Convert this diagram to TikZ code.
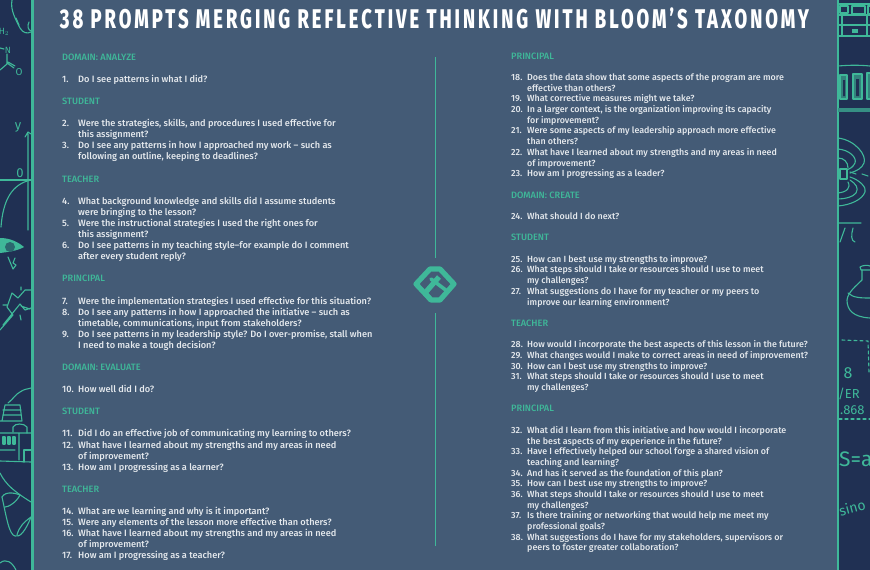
\documentclass[tikz,border=0pt]{standalone}
\usepackage{fontspec}
\setmainfont{Fira Sans}
\newfontfamily\bodyfont{Fira Sans Medium}
\newfontfamily\titlefont[FakeStretch=0.68,LetterSpace=11.1]{Fira Sans ExtraBold}
\newfontfamily\handfont{Fira Sans}
\definecolor{panelblue}{HTML}{445B76}
\definecolor{sidenavy}{HTML}{203053}
\definecolor{mintgreen}{HTML}{3FB899}
\definecolor{paletext}{HTML}{E6EAEE}
\tikzset{
  prompt/.style={anchor=base west,inner sep=0pt,text=paletext,font=\bodyfont\fontsize{9.2}{10}\selectfont},
  heading/.style={anchor=base west,inner sep=0pt,text=mintgreen,font=\bodyfont\fontsize{9.2}{10}\selectfont},
  doodle/.style={draw=mintgreen,line width=1.1pt,line cap=round,line join=round},
  handtext/.style={inner sep=0pt,text=mintgreen,font=\handfont\fontsize{13}{14}\selectfont},
  logostroke/.style={draw=mintgreen,line width=5.2pt,line join=round,line cap=round}
}
\begin{document}
\begin{tikzpicture}[x=1pt,y=-1pt]
  \useasboundingbox (0,0) rectangle (870,570);
  \fill[sidenavy] (0,0) rectangle (870,570);
  \fill[panelblue] (33,0) rectangle (837,570);
  \fill[mintgreen] (31,0) rectangle (33.5,570);
  \fill[mintgreen] (836.5,0) rectangle (838.5,570);
  % left strip
  \draw[doodle] (12,0) .. controls (10,10) and (16,20) .. (20,28) .. controls (23,33) and (27,34) .. (31,32);
  \draw[doodle] (16,18) -- (19,25);
  \draw[doodle] (29,22) .. controls (27,26) and (28,30) .. (31,31);
  \node[handtext,font=\handfont\fontsize{9}{9}\selectfont] (hlabel) at (4,32) {H$_2$};
  \node[handtext,font=\handfont\fontsize{9}{9}\selectfont] (nlabel) at (8,50) {N};
  \node[handtext,font=\handfont\fontsize{10}{10}\selectfont] (olabel) at (19,72) {O};
  \draw[doodle] (0,48) -- (4,49) (7,54) -- (7,64) -- (0,70) (7,63) -- (14,68) (8,62) -- (15,66);
  \node[handtext] (ylabel) at (18,127) {y};
  \node[handtext] (zerolabel) at (20,173) {0};
  \draw[doodle] (28,230) -- (28,134) (25,137) -- (28,132) -- (31,134);
  \draw[doodle] (0,180) -- (31,180);
  \draw[doodle] (31,180) .. controls (12,184) and (3,200) .. (1,227);
  \fill[mintgreen] (0,238) .. controls (10,238) and (18,242) .. (24,247) .. controls (17,251) and (8,252) .. (0,253) -- cycle;
  \fill[sidenavy!60!mintgreen] (10,247) circle (5);
  \draw[doodle] (8,257) -- (13,269) -- (16,265) -- (13,263) -- (15,258);
  \draw[doodle] (0,330) -- (13,315) -- (7,307) -- (12,293) -- (18,298) -- (25,290) -- (31,290)
    (31,308) -- (25,310) -- (20,304) -- (3,325) (21,306) -- (30,309);
  \draw[doodle] (21,287) -- (21,290) (3,305) -- (7,305) (20,315) -- (21,320);
  \draw[doodle] (8,403) .. controls (14,398) and (16,394) .. (20,392) .. controls (24,389) and (28,389) .. (31,388);
  \draw[doodle] (5,405) -- (20,405) -- (22,421) (5,405) -- (2,421) (3,410) -- (21,410) (3,415) -- (21,415) (0,421) -- (22,421);
  \draw[doodle] (13,432) -- (13,427) .. controls (15,423) and (24,423) .. (27,427) -- (27,433);
  \draw[doodle] (0,433) -- (31,433) (19,433) -- (19,460) (0,450) -- (15,450) (0,461) -- (31,462);
  \draw[doodle] (24,462) -- (24,450) -- (31,450);
  \draw[doodle] (3,437) rectangle (5,444) (8,437) rectangle (10,444) (13,437) rectangle (15,444);
  \draw[doodle] (0,473) .. controls (6,485) and (15,492) .. (31,502);
  \draw[doodle] (2,497) .. controls (6,515) and (9,535) .. (15,536) .. controls (20,538) and (26,530) .. (31,517);
  \draw[doodle] (17,535) .. controls (19,527) and (24,522) .. (31,517);
  \draw[doodle] (2,497) .. controls (6,490) and (18,494) .. (20,495) .. controls (16,503) and (8,507) .. (5,507);
  \draw[doodle] (0,563) .. controls (6,558) and (12,562) .. (16,570);
  % right strip
  \draw[doodle] (838,4) -- (870,4) (838,15) -- (870,15) (838,25) -- (870,25) (838,36) -- (870,36);
  \draw[doodle] (842,15) -- (842,36) (867,15) -- (867,36);
  \draw[doodle] (840,6) rectangle (848,13) (852,6) rectangle (865,14) (868,6) rectangle (872,14);
  \fill[mintgreen] (852,29) rectangle (858,33);
  \draw[doodle] (838,66) .. controls (850,65) and (860,65) .. (870,66);
  \draw[doodle,fill=mintgreen!60!sidenavy] (840,75) rectangle (847,99) (853,74) rectangle (862,99) (867,73) rectangle (873,99);
  \fill[sidenavy] (843,80) rectangle (845,96) (856,79) rectangle (859,96);
  \fill[mintgreen!70!sidenavy] (838,108) rectangle (870,112);
  \draw[doodle] (840,169) rectangle (847,179);
  \draw[doodle] (838,138) .. controls (855,140) and (867,155) .. (864,163) .. controls (862,168) and (857,171) .. (850,173);
  \draw[doodle] (838,149) .. controls (850,150) and (857,158) .. (855,163) .. controls (853,167) and (850,169) .. (847,170);
  \draw[doodle] (838,158) .. controls (844,158) and (848,162) .. (848,168);
  \draw[doodle] (850,177) .. controls (860,180) and (867,188) .. (865,192) .. controls (862,200) and (850,205) .. (838,206);
  \draw[doodle] (850,180) .. controls (856,184) and (859,188) .. (856,193) .. controls (853,197) and (845,199) .. (838,199);
  \draw[doodle] (848,182) .. controls (851,188) and (847,192) .. (838,193);
  \draw[doodle] (850,172) -- (856,174) (862,174) -- (868,176);
  \draw[doodle] (838,223) -- (861,223) (845,228) -- (840,242) (853,228) .. controls (851,235) and (851,241) .. (855,242);
  \draw[doodle] (860,267) .. controls (863,265) and (868,265) .. (870,266) (860,267) -- (861,270) -- (870,270);
  \draw[doodle] (862,270) -- (862,280) .. controls (856,286) and (848,292) .. (847,300) .. controls (847,310) and (853,317) .. (870,318);
  \draw[doodle] (848,293) .. controls (853,298) and (862,298) .. (870,298);
  \draw[doodle,dashed] (842,340) -- (868,341) -- (869,372);
  \node[handtext,font=\handfont\fontsize{16}{16}\selectfont] (eightlabel) at (848,373) {8};
  \node[handtext,anchor=west] (verlabel) at (838,394) {/ER};
  \node[handtext,anchor=west] (decimallabel) at (840,410) {.868};
  \draw[doodle,dashed] (839,419) -- (870,419);
  \node[handtext,anchor=west,font=\handfont\fontsize{21}{21}\selectfont] (arealabel) at (839,459) {S=a};
  \node[handtext,anchor=west,rotate=15,font=\handfont\fontsize{14}{14}\selectfont] (sinlabel) at (839,511) {sino};
  % title
  \node[inner sep=0pt,text=white,font=\titlefont\fontsize{27}{27}\selectfont] (title) at (434.5,18.5)
    {38 PROMPTS MERGING REFLECTIVE THINKING WITH BLOOM’S TAXONOMY};
  % divider and logo
  \coordinate (dividerA) at (435,57);
  \coordinate (dividerB) at (435,258);
  \coordinate (dividerC) at (435,313);
  \coordinate (dividerD) at (435,546);
  \draw[mintgreen,line width=1pt] (dividerA) -- (dividerB) (dividerC) -- (dividerD);
  \draw[logostroke] (416,284) -- (430,269) -- (440,269) -- (454,284) -- (440,300) -- (431,300) -- cycle;
  \draw[logostroke,line cap=butt] (431,300) -- (425,293) -- (439,277);
  \draw[logostroke,line width=3.6pt] (431,279) -- (447,291);
  % left column
  \node[heading] (analyze) at (62,60) {DOMAIN: ANALYZE};
  \node[prompt] (n1) at (62,82) {1.};
  \node[prompt] (q1) at (78,82) {Do I see patterns in what I did?};
  \node[heading] (studentA) at (62,104) {STUDENT};
  \node[prompt] (n2) at (62,126) {2.};
  \node[prompt] (q2) at (78,126) {Were the strategies, skills, and procedures I used effective for};
  \node[prompt] (q2b) at (78,137) {this assignment?};
  \node[prompt] (n3) at (62,148.5) {3.};
  \node[prompt] (q3) at (78,148.5) {Do I see any patterns in how I approached my work – such as};
  \node[prompt] (q3b) at (78,159.5) {following an outline, keeping to deadlines?};
  \node[heading] (teacherA) at (62,182) {TEACHER};
  \node[prompt] (n4) at (62,204) {4.};
  \node[prompt] (q4) at (78,204) {What background knowledge and skills did I assume students};
  \node[prompt] (q4b) at (78,215) {were bringing to the lesson?};
  \node[prompt] (n5) at (62,226) {5.};
  \node[prompt] (q5) at (78,226) {Were the instructional strategies I used the right ones for};
  \node[prompt] (q5b) at (78,237) {this assignment?};
  \node[prompt] (n6) at (62,248) {6.};
  \node[prompt] (q6) at (78,248) {Do I see patterns in my teaching style–for example do I comment};
  \node[prompt] (q6b) at (78,259) {after every student reply?};
  \node[heading] (principalA) at (62,281.5) {PRINCIPAL};
  \node[prompt] (n7) at (62,304) {7.};
  \node[prompt] (q7) at (78,304) {Were the implementation strategies I used effective for this situation?};
  \node[prompt] (n8) at (62,315) {8.};
  \node[prompt] (q8) at (78,315) {Do I see any patterns in how I approached the initiative – such as};
  \node[prompt] (q8b) at (78,326) {timetable, communications, input from stakeholders?};
  \node[prompt] (n9) at (62,337) {9.};
  \node[prompt] (q9) at (78,337) {Do I see patterns in my leadership style? Do I over-promise, stall when};
  \node[prompt] (q9b) at (78,348) {I need to make a tough decision?};
  \node[heading] (evaluate) at (62,370) {DOMAIN: EVALUATE};
  \node[prompt] (n10) at (62,392) {10.};
  \node[prompt] (q10) at (78,392) {How well did I do?};
  \node[heading] (studentB) at (62,414) {STUDENT};
  \node[prompt] (n11) at (62,436.5) {11.};
  \node[prompt] (q11) at (78,436.5) {Did I do an effective job of communicating my learning to others?};
  \node[prompt] (n12) at (62,448) {12.};
  \node[prompt] (q12) at (78,448) {What have I learned about my strengths and my areas in need};
  \node[prompt] (q12b) at (78,459) {of improvement?};
  \node[prompt] (n13) at (62,470) {13.};
  \node[prompt] (q13) at (78,470) {How am I progressing as a learner?};
  \node[heading] (teacherB) at (62,492) {TEACHER};
  \node[prompt] (n14) at (62,514) {14.};
  \node[prompt] (q14) at (78,514) {What are we learning and why is it important?};
  \node[prompt] (n15) at (62,525) {15.};
  \node[prompt] (q15) at (78,525) {Were any elements of the lesson more effective than others?};
  \node[prompt] (n16) at (62,536) {16.};
  \node[prompt] (q16) at (78,536) {What have I learned about my strengths and my areas in need};
  \node[prompt] (q16b) at (78,547) {of improvement?};
  \node[prompt] (n17) at (62,558) {17.};
  \node[prompt] (q17) at (78,558) {How am I progressing as a teacher?};
  % right column
  \begin{scope}[prompt/.append style={font=\bodyfont\fontsize{8.9}{10}\selectfont}]
  \node[heading] (principalB) at (511,59) {PRINCIPAL};
  \node[prompt] (n18) at (511,80) {18.};
  \node[prompt] (q18) at (527,80) {Does the data show that some aspects of the program are more};
  \node[prompt] (q18b) at (527,91) {effective than others?};
  \node[prompt] (n19) at (511,101.5) {19.};
  \node[prompt] (q19) at (527,101.5) {What corrective measures might we take?};
  \node[prompt] (n20) at (511,112) {20.};
  \node[prompt] (q20) at (527,112) {In a larger context, is the organization improving its capacity};
  \node[prompt] (q20b) at (527,123) {for improvement?};
  \node[prompt] (n21) at (511,133.5) {21.};
  \node[prompt] (q21) at (527,133.5) {Were some aspects of my leadership approach more effective};
  \node[prompt] (q21b) at (527,144) {than others?};
  \node[prompt] (n22) at (511,155) {22.};
  \node[prompt] (q22) at (527,155) {What have I learned about my strengths and my areas in need};
  \node[prompt] (q22b) at (527,166) {of improvement?};
  \node[prompt] (n23) at (511,176.5) {23.};
  \node[prompt] (q23) at (527,176.5) {How am I progressing as a leader?};
  \node[heading] (create) at (511,198) {DOMAIN: CREATE};
  \node[prompt] (n24) at (511,219) {24.};
  \node[prompt] (q24) at (527,219) {What should I do next?};
  \node[heading] (studentC) at (511,240.5) {STUDENT};
  \node[prompt] (n25) at (511,262) {25.};
  \node[prompt] (q25) at (527,262) {How can I best use my strengths to improve?};
  \node[prompt] (n26) at (511,272.5) {26.};
  \node[prompt] (q26) at (527,272.5) {What steps should I take or resources should I use to meet};
  \node[prompt] (q26b) at (527,283.5) {my challenges?};
  \node[prompt] (n27) at (511,294) {27.};
  \node[prompt] (q27) at (527,294) {What suggestions do I have for my teacher or my peers to};
  \node[prompt] (q27b) at (527,305) {improve our learning environment?};
  \node[heading] (teacherC) at (511,326) {TEACHER};
  \node[prompt] (n28) at (511,347) {28.};
  \node[prompt] (q28) at (527,347) {How would I incorporate the best aspects of this lesson in the future?};
  \node[prompt] (n29) at (511,358) {29.};
  \node[prompt] (q29) at (527,358) {What changes would I make to correct areas in need of improvement?};
  \node[prompt] (n30) at (511,369) {30.};
  \node[prompt] (q30) at (527,369) {How can I best use my strengths to improve?};
  \node[prompt] (n31) at (511,379.5) {31.};
  \node[prompt] (q31) at (527,379.5) {What steps should I take or resources should I use to meet};
  \node[prompt] (q31b) at (527,390.5) {my challenges?};
  \node[heading] (principalC) at (511,411.5) {PRINCIPAL};
  \node[prompt] (n32) at (511,433) {32.};
  \node[prompt] (q32) at (527,433) {What did I learn from this initiative and how would I incorporate};
  \node[prompt] (q32b) at (527,444) {the best aspects of my experience in the future?};
  \node[prompt] (n33) at (511,454) {33.};
  \node[prompt] (q33) at (527,454) {Have I effectively helped our school forge a shared vision of};
  \node[prompt] (q33b) at (527,465) {teaching and learning?};
  \node[prompt] (n34) at (511,476) {34.};
  \node[prompt] (q34) at (527,476) {And has it served as the foundation of this plan?};
  \node[prompt] (n35) at (511,486) {35.};
  \node[prompt] (q35) at (527,486) {How can I best use my strengths to improve?};
  \node[prompt] (n36) at (511,497) {36.};
  \node[prompt] (q36) at (527,497) {What steps should I take or resources should I use to meet};
  \node[prompt] (q36b) at (527,508) {my challenges?};
  \node[prompt] (n37) at (511,518) {37.};
  \node[prompt] (q37) at (527,518) {Is there training or networking that would help me meet my};
  \node[prompt] (q37b) at (527,529) {professional goals?};
  \node[prompt] (n38) at (511,540) {38.};
  \node[prompt] (q38) at (527,540) {What suggestions do I have for my stakeholders, supervisors or};
  \node[prompt] (q38b) at (527,550.5) {peers to foster greater collaboration?};
  \end{scope}
\end{tikzpicture}
\end{document}
